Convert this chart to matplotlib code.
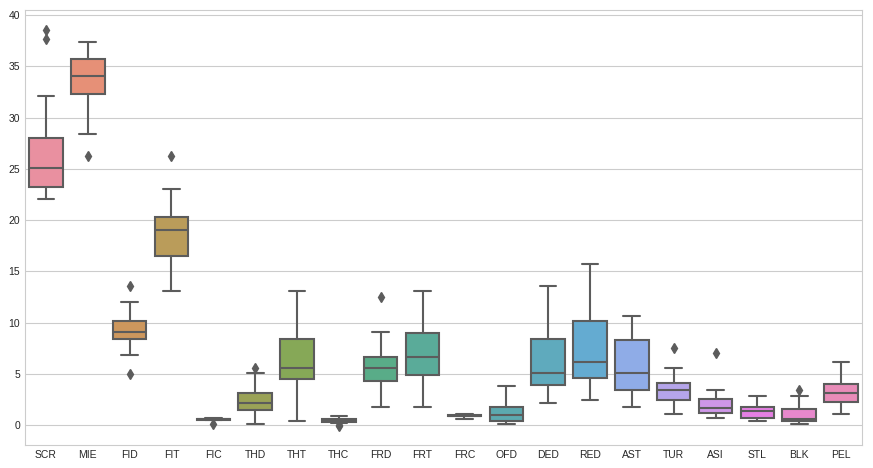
import colorsys
import numpy as np
import matplotlib
matplotlib.use("Agg")
import matplotlib.pyplot as plt
import seaborn as sns

categories = ["SCR", "MIE", "FID", "FIT", "FIC", "THD", "THT", "THC", "FRD", "FRT",
              "FRC", "OFD", "DED", "RED", "AST", "TUR", "ASI", "STL", "BLK", "PEL"]
whislo = [22.06, 28.4, 6.79, 13.03, 0.45, 0.06, 0.36, 0.2, 1.72, 1.72,
          0.62, 0.06, 2.11, 2.4, 1.72, 1.04, 0.65, 0.36, 0.06, 1.04]
q1 = [23.23, 32.3, 8.35, 16.54, 0.5, 1.43, 4.45, 0.3, 4.26, 4.9,
      0.85, 0.36, 3.93, 4.55, 3.38, 2.4, 1.2, 0.65, 0.36, 2.21]
med = [25.1, 34.05, 9.06, 19.07, 0.55, 2.11, 5.52, 0.45, 5.52, 6.6,
       0.9, 1.0, 5.04, 6.11, 5.04, 3.38, 1.62, 1.33, 0.58, 3.09]
q3 = [28.04, 35.7, 10.17, 20.31, 0.62, 3.09, 8.41, 0.55, 6.6, 8.97,
      1.0, 1.75, 8.35, 10.17, 8.25, 4.06, 2.5, 1.72, 1.53, 3.96]
whishi = [32.13, 37.36, 12.02, 23.07, 0.7, 5.04, 13.03, 0.84, 9.03, 13.03,
          1.04, 3.77, 13.6, 15.76, 10.59, 5.52, 3.38, 2.79, 2.79, 6.11]
fliers = [[38.5, 37.7], [26.3], [13.58, 4.97], [26.3], [0.1], [5.56], [], [0.0, -0.1], [12.5], [],
          [], [], [], [], [], [7.5], [7.05], [], [3.38], []]

sns.set_style("whitegrid")
plt.rcParams['font.family'] = ['Liberation Sans', 'DejaVu Sans']

pal = sns.color_palette("husl", len(categories))
colors = [sns.desaturate(c, 0.75) for c in pal]
colors = [tuple(0.88 * np.array(c) + 0.12) for c in colors]
gray = (0.36, 0.36, 0.36)

fig = plt.figure(figsize=(8.73, 4.68), dpi=100)
ax = fig.add_axes([25 / 873, 1 - 445 / 468, (862 - 25) / 873, (445 - 10) / 468])

stats = []
for i, c in enumerate(categories):
    stats.append(dict(label=c, whislo=whislo[i], q1=q1[i], med=med[i], q3=q3[i],
                      whishi=whishi[i], fliers=fliers[i]))

bp = ax.bxp(stats, positions=np.arange(len(categories)), widths=0.8, patch_artist=True,
            boxprops=dict(edgecolor=gray, linewidth=1.5),
            whiskerprops=dict(color=gray, linewidth=1.5),
            capprops=dict(color=gray, linewidth=1.5),
            medianprops=dict(color=gray, linewidth=1.5),
            flierprops=dict(marker="d", markerfacecolor=gray, markeredgecolor=gray,
                            markersize=5, linestyle="none"))
for patch, col in zip(bp["boxes"], colors):
    patch.set_facecolor(col)

ax.set_xlim(-0.5, len(categories) - 0.5)
ax.set_ylim(-1.95, 40.5)
ax.set_xticks(np.arange(len(categories)))
ax.set_xticklabels(categories)
ax.set_yticks([0, 5, 10, 15, 20, 25, 30, 35, 40])
ax.tick_params(labelsize=7.5, colors=".15", length=0)
ax.grid(axis="x", visible=False)
ax.grid(axis="y", color=".8", linewidth=0.8)
for s in ax.spines.values():
    s.set_color(".8")

fig.savefig("out.png", dpi=100)
